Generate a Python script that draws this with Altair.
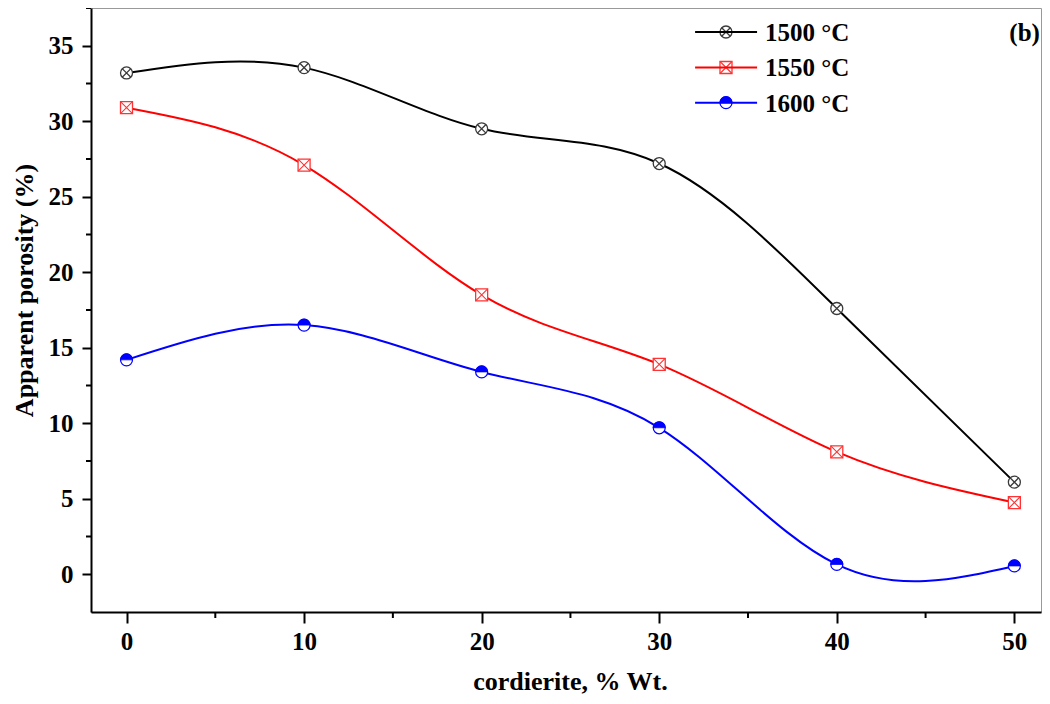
import altair as alt
import pandas as pd

# ---------------- data ----------------
cordierite = [0, 10, 20, 30, 40, 50]
series_names = ["1500 °C", "1550 °C", "1600 °C"]
porosity_1500 = [33.2, 33.55, 29.5, 27.2, 17.6, 6.1]
porosity_1550 = [30.9, 27.1, 18.5, 13.9, 8.1, 4.75]
porosity_1600 = [14.2, 16.5, 13.4, 9.7, 0.65, 0.55]
colors = ["#000000", "#ff0000", "#0000ff"]

x_major = [0, 10, 20, 30, 40, 50]
x_minor = [5, 15, 25, 35, 45]
y_major = [0, 5, 10, 15, 20, 25, 30, 35]
y_minor = [2.5, 7.5, 12.5, 17.5, 22.5, 27.5, 32.5, 37.5]

# legend layout (in data units)
legend_y = [35.91, 33.56, 31.23]
legend_x1, legend_x2, legend_xm, legend_xt = 32.02, 35.51, 33.76, 35.96
panel_x = 51.44

FONT = "Liberation Serif"
W, H = 950, 604

rows = []
for name, vals in zip(series_names, [porosity_1500, porosity_1550, porosity_1600]):
    for xv, yv in zip(cordierite, vals):
        rows.append({"x": xv, "y": yv, "series": name})
df = pd.DataFrame(rows)

leg = pd.DataFrame({
    "series": series_names,
    "x": [legend_xm] * 3,
    "x1": [legend_x1] * 3,
    "x2": [legend_x2] * 3,
    "xt": [legend_xt] * 3,
    "y": legend_y,
})
pts = pd.concat([df, leg[["x", "y", "series"]]], ignore_index=True)

xs = alt.Scale(domain=[-2, 51.5], nice=False, zero=False)
ys = alt.Scale(domain=[-2.5, 37.5], nice=False, zero=False)
cs = alt.Scale(domain=series_names, range=colors)

X = alt.X("x:Q", scale=xs, title="cordierite, % Wt.",
          axis=alt.Axis(values=x_major, grid=False, tickSize=11, tickWidth=2,
                        domainWidth=2, domainColor="black", tickColor="black",
                        labelFont=FONT, labelFontSize=25, labelFontWeight="bold",
                        labelColor="black", labelPadding=6,
                        titleFont=FONT, titleFontSize=26, titleFontWeight="bold",
                        titleColor="black", titleBaseline="alphabetic",
                        titleAlign="center", titleX=479, titleY=77))
Y = alt.Y("y:Q", scale=ys, title="Apparent porosity (%)",
          axis=alt.Axis(values=y_major, grid=False, tickSize=9, tickWidth=2,
                        domainWidth=2, domainColor="black", tickColor="black",
                        labelFont=FONT, labelFontSize=25, labelFontWeight="bold",
                        labelColor="black", labelPadding=9,
                        titleFont=FONT, titleFontSize=26, titleFontWeight="bold",
                        titleColor="black", titleAngle=270, titleAlign="center",
                        titleBaseline="middle", titleX=-67, titleY=282))

base = alt.Chart(df)

lines = base.mark_line(interpolate="natural", strokeWidth=2).encode(
    x=X, y=Y, color=alt.Color("series:N", scale=cs, legend=None), detail="series:N"
)

XPATH_CIRCLE = "M-0.72,-0.72L0.72,0.72M-0.72,0.72L0.72,-0.72"
XPATH_SQUARE = "M-1,-1L1,1M-1,1L1,-1"
HALF_TOP = "M-1,0A1,1,0,0,1,1,0Z"

def sel(name):
    return alt.Chart(pts).transform_filter(alt.datum.series == name)

def pt(name, **kw):
    return sel(name).mark_point(size=144, opacity=1, **kw).encode(
        x=alt.X("x:Q", scale=xs), y=alt.Y("y:Q", scale=ys))

m1500 = [
    pt(series_names[0], shape="circle", filled=True, fill="white", stroke="#3a3a3a", strokeWidth=1.3),
    pt(series_names[0], shape=XPATH_CIRCLE, filled=False, stroke="#3a3a3a", strokeWidth=1.3),
]
m1550 = [
    pt(series_names[1], shape="square", filled=True, fill="white", stroke="#ff3333", strokeWidth=1.3),
    pt(series_names[1], shape=XPATH_SQUARE, filled=False, stroke="#ff3333", strokeWidth=1.1),
]
m1600 = [
    pt(series_names[2], shape="circle", filled=True, fill="white", stroke="#0000ff", strokeWidth=1.2),
    pt(series_names[2], shape=HALF_TOP, filled=True, fill="#0000ff", stroke="#0000ff", strokeWidth=0.8),
]

# minor ticks
xminor = alt.Chart(pd.DataFrame({"v": x_minor})).mark_rule(color="black", strokeWidth=2).encode(
    x=alt.X("v:Q", scale=xs), y=alt.value(H), y2=alt.value(H + 6))
yminor = alt.Chart(pd.DataFrame({"v": y_minor})).mark_rule(color="black", strokeWidth=2).encode(
    y=alt.Y("v:Q", scale=ys), x=alt.value(0), x2=alt.value(-5))

# legend
legbase = alt.Chart(leg)
leg_lines = legbase.mark_rule(strokeWidth=2).encode(
    x=alt.X("x1:Q", scale=xs), x2="x2:Q", y=alt.Y("y:Q", scale=ys),
    color=alt.Color("series:N", scale=cs, legend=None))
leg_text = legbase.mark_text(align="left", baseline="middle", font=FONT, fontSize=25,
                             fontWeight="bold", color="black", dy=1).encode(
    x=alt.X("xt:Q", scale=xs), y=alt.Y("y:Q", scale=ys), text="series:N")
panel = alt.Chart(pd.DataFrame({"x": [panel_x], "y": [legend_y[0]], "t": ["(b)"]})).mark_text(
    align="right", baseline="middle", font=FONT, fontSize=25, fontWeight="bold", color="black", dy=1
).encode(x=alt.X("x:Q", scale=xs), y=alt.Y("y:Q", scale=ys), text="t:N")

chart = alt.layer(
    lines, *m1500, *m1550, *m1600, xminor, yminor, leg_lines, leg_text, panel
).properties(
    width=W, height=H,
    padding={"left": 83, "top": 0, "right": 1, "bottom": 84},
    autosize=alt.AutoSizeParams(type="none"),
    background="white",
).configure_view(stroke="#999999", strokeWidth=1)

chart.save("out.html", embed_options={"renderer": "svg", "actions": False})
